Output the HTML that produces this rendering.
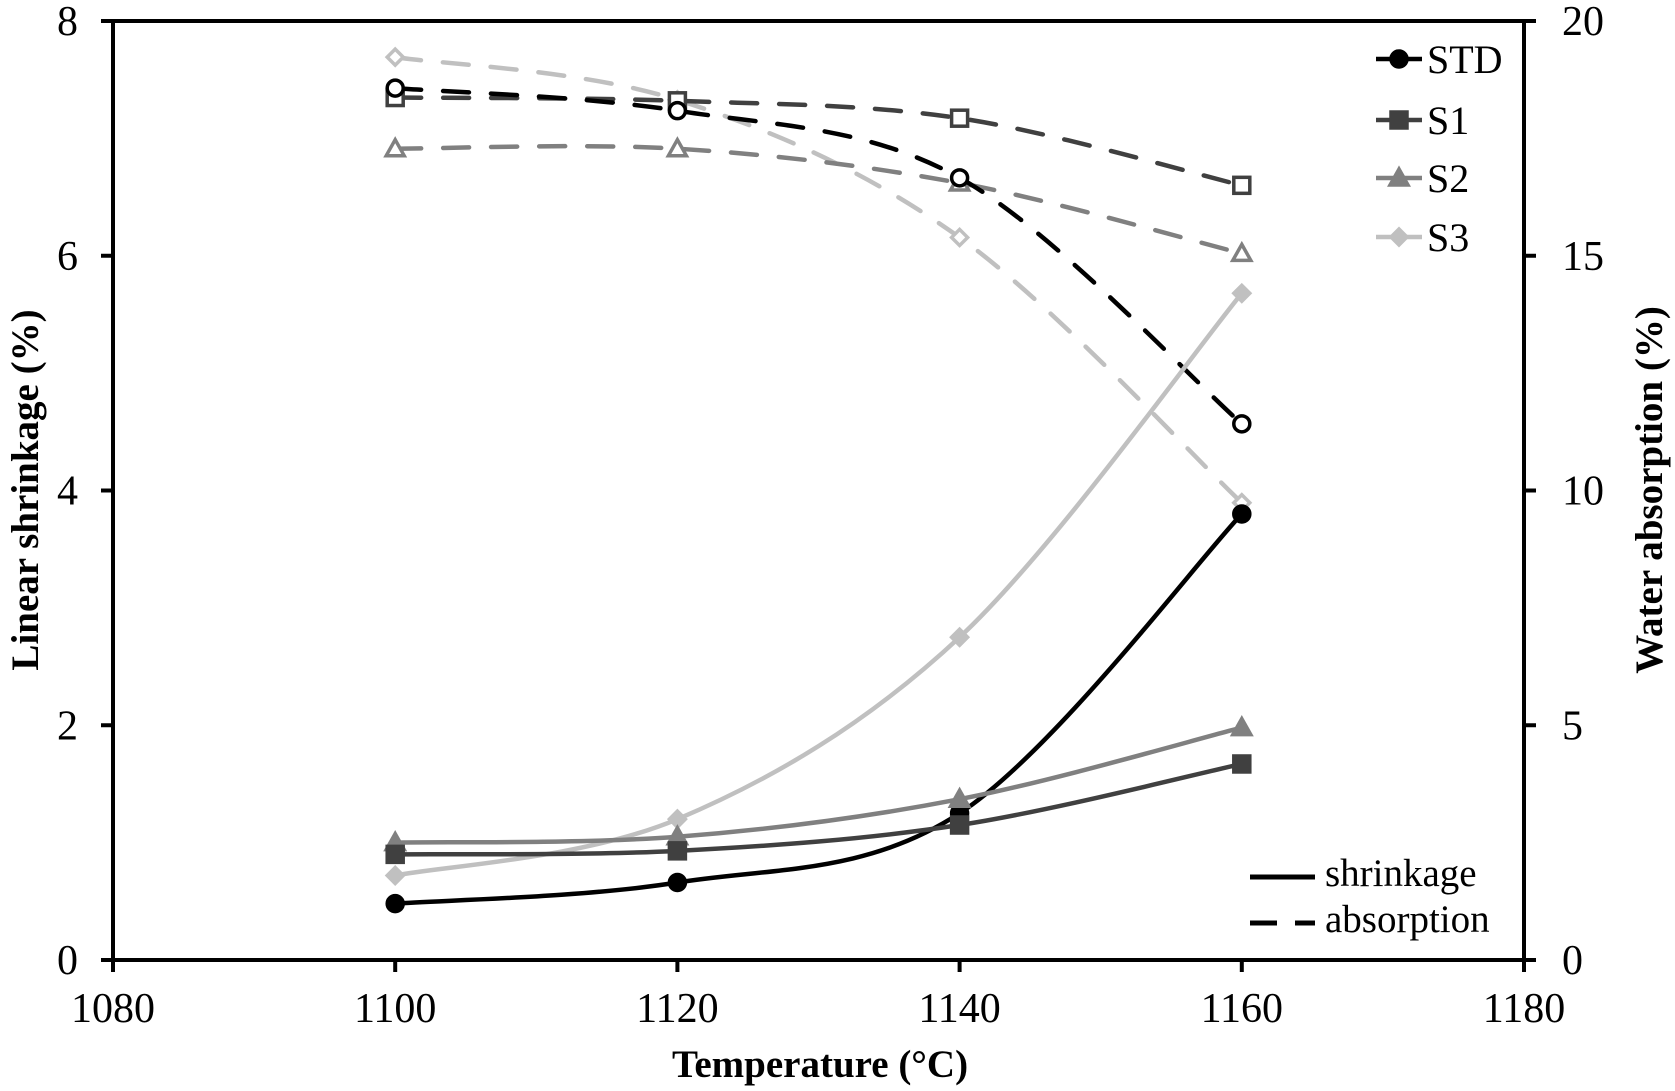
<!DOCTYPE html>
<html><head><meta charset="utf-8"><style>
html,body{margin:0;padding:0;background:#fff;}
svg{display:block;font-family:"Liberation Serif",serif;}
</style></head><body>
<svg id="chart" width="1675" height="1091" viewBox="0 0 1675 1091" xmlns="http://www.w3.org/2000/svg">
<g id="grid"></g>
<g id="series"></g>
<g id="axes"></g>
<g id="legend"></g>
</svg>
<script>
const temps=[1100,1120,1140,1160];
const xTicks=[1080,1100,1120,1140,1160,1180];
const yLeftTicks=[0,2,4,6,8];
const yRightTicks=[0,5,10,15,20];
const seriesNames=["STD","S1","S2","S3"];
const shrinkSTD=[0.48,0.66,1.25,3.8];
const shrinkS1=[0.9,0.93,1.15,1.67];
const shrinkS2=[1.0,1.05,1.37,1.98];
const shrinkS3=[0.72,1.2,2.75,5.68];
const absSTD=[18.57,18.09,16.66,11.42];
const absS1=[18.37,18.3,17.93,16.5];
const absS2=[17.28,17.28,16.55,15.05];
const absS3=[19.23,18.32,15.39,9.74];

const NS="http://www.w3.org/2000/svg";
const X0=113,X1=1524,YT=21,YB=960;
function sx(v){return X0+(v-1080)/100*(X1-X0);}
function syL(v){return YB-v/8*(YB-YT);}
function syR(v){return YB-v/20*(YB-YT);}
function mk(tag,attrs,parent){const e=document.createElementNS(NS,tag);for(const k in attrs)e.setAttribute(k,attrs[k]);parent.appendChild(e);return e;}
const colors=["#000000","#404040","#808080","#c0c0c0"];
const shapes=["circle","square","triangle","diamond"];
const shr=[shrinkSTD,shrinkS1,shrinkS2,shrinkS3];
const abs=[absSTD,absS1,absS2,absS3];
const axes=document.getElementById('axes');
const ser=document.getElementById('series');
const leg=document.getElementById('legend');

function smooth(pts){
  let d=`M${pts[0][0]},${pts[0][1]}`;
  for(let i=0;i<pts.length-1;i++){
    const p0=pts[Math.max(0,i-1)],p1=pts[i],p2=pts[i+1],p3=pts[Math.min(pts.length-1,i+2)];
    const t=6;
    const c1=[p1[0]+(p2[0]-p0[0])/t,p1[1]+(p2[1]-p0[1])/t];
    const c2=[p2[0]-(p3[0]-p1[0])/t,p2[1]-(p3[1]-p1[1])/t];
    d+=` C${c1[0]},${c1[1]} ${c2[0]},${c2[1]} ${p2[0]},${p2[1]}`;
  }
  return d;
}
function marker(shape,x,y,fill,stroke,parent,r){
  r=r||9;
  let e;
  if(shape==="circle")e=mk('circle',{cx:x,cy:y,r:r,fill:fill,stroke:stroke,'stroke-width':3.5},parent);
  else if(shape==="square")e=mk('rect',{x:x-r,y:y-r,width:2*r,height:2*r,fill:fill,stroke:stroke,'stroke-width':3.5},parent);
  else if(shape==="triangle")e=mk('polygon',{points:`${x},${y-r-1} ${x+r+1},${y+r-1} ${x-r-1},${y+r-1}`,fill:fill,stroke:stroke,'stroke-width':3.5},parent);
  else e=mk('polygon',{points:`${x},${y-r} ${x+r},${y} ${x},${y+r} ${x-r},${y}`,fill:fill,stroke:stroke,'stroke-width':3.5},parent);
  return e;
}
for(let s=3;s>=0;s--){
  const pts=temps.map((t,i)=>[sx(t),syR(abs[s][i])]);
  const p=mk('path',{d:smooth(pts),fill:'none',stroke:colors[s],'stroke-width':4.5,'stroke-dasharray':'26 22','stroke-linecap':'round'},ser);
  
  
  pts.forEach((q,i)=>{
    const m=marker(shapes[s],q[0],q[1],'#fff',colors[s],ser,8);
    
    
  });
}
const order=[0,3,2,1];
order.forEach(s=>{
  const pts=temps.map((t,i)=>[sx(t),syL(shr[s][i])]);
  const p=mk('path',{d:smooth(pts),fill:'none',stroke:colors[s],'stroke-width':4.5},ser);
  
  
  pts.forEach((q,i)=>{
    const m=marker(shapes[s],q[0],q[1],colors[s],colors[s],ser,8);
    
    
  });
});
const frame=mk('path',{d:`M${X0},${YT} L${X1},${YT} M${X0},${YT} L${X0},${YB} L${X1},${YB} M${X1},${YT} L${X1},${YB}`,stroke:'#000','stroke-width':4,fill:'none'},axes);


xTicks.forEach(v=>{
  const x=sx(v);
  mk('line',{x1:x,y1:YB,x2:x,y2:YB+12,stroke:'#000','stroke-width':4},axes);
  const t=mk('text',{x:x,y:YB+62,'font-size':42,'text-anchor':'middle'},axes);
  t.textContent=v;
  
  
});
yLeftTicks.forEach(v=>{
  const y=syL(v);
  mk('line',{x1:X0-12,y1:y,x2:X0,y2:y,stroke:'#000','stroke-width':4},axes);
  const t=mk('text',{x:78,y:y+14,'font-size':42,'text-anchor':'end'},axes);
  t.textContent=v;
  
  
});
yRightTicks.forEach(v=>{
  const y=syR(v);
  mk('line',{x1:X1,y1:y,x2:X1+12,y2:y,stroke:'#000','stroke-width':4},axes);
  const t=mk('text',{x:1562,y:y+14,'font-size':42,'text-anchor':'start'},axes);
  t.textContent=v;
  
  
});
const legY=[59,120,178,237];
seriesNames.forEach((n,i)=>{
  const g=mk('g',{},leg);
  
  
  mk('line',{x1:1376,y1:legY[i],x2:1422,y2:legY[i],stroke:colors[i],'stroke-width':4.5},g);
  marker(shapes[i],1399,legY[i],colors[i],colors[i],g,8);
  const t=mk('text',{x:1427,y:legY[i]+14,'font-size':40},g);
  t.textContent=n;
});
</script>
<svg style="position:absolute;left:0;top:0" width="1675" height="1091" xmlns="http://www.w3.org/2000/svg" font-family="Liberation Serif, serif">
<g>
<line x1="1250" y1="877" x2="1315" y2="877" stroke="#000" stroke-width="5"/>
<text x="1325" y="886" font-size="39">shrinkage</text>
</g>
<g>
<line x1="1250" y1="923" x2="1315" y2="923" stroke="#000" stroke-width="5" stroke-dasharray="27 18"/>
<text x="1325" y="932" font-size="39">absorption</text>
</g>
<text x="0" y="0" font-size="39" font-weight="bold" text-anchor="middle" transform="translate(38,490) rotate(-90)">Linear shrinkage (%)</text>
<text x="0" y="0" font-size="39" font-weight="bold" text-anchor="middle" transform="translate(1662,490) rotate(-90)">Water absorption (%)</text>
<text x="820" y="1077" font-size="39" font-weight="bold" text-anchor="middle">Temperature (°C)</text>
</svg>
</body></html>
